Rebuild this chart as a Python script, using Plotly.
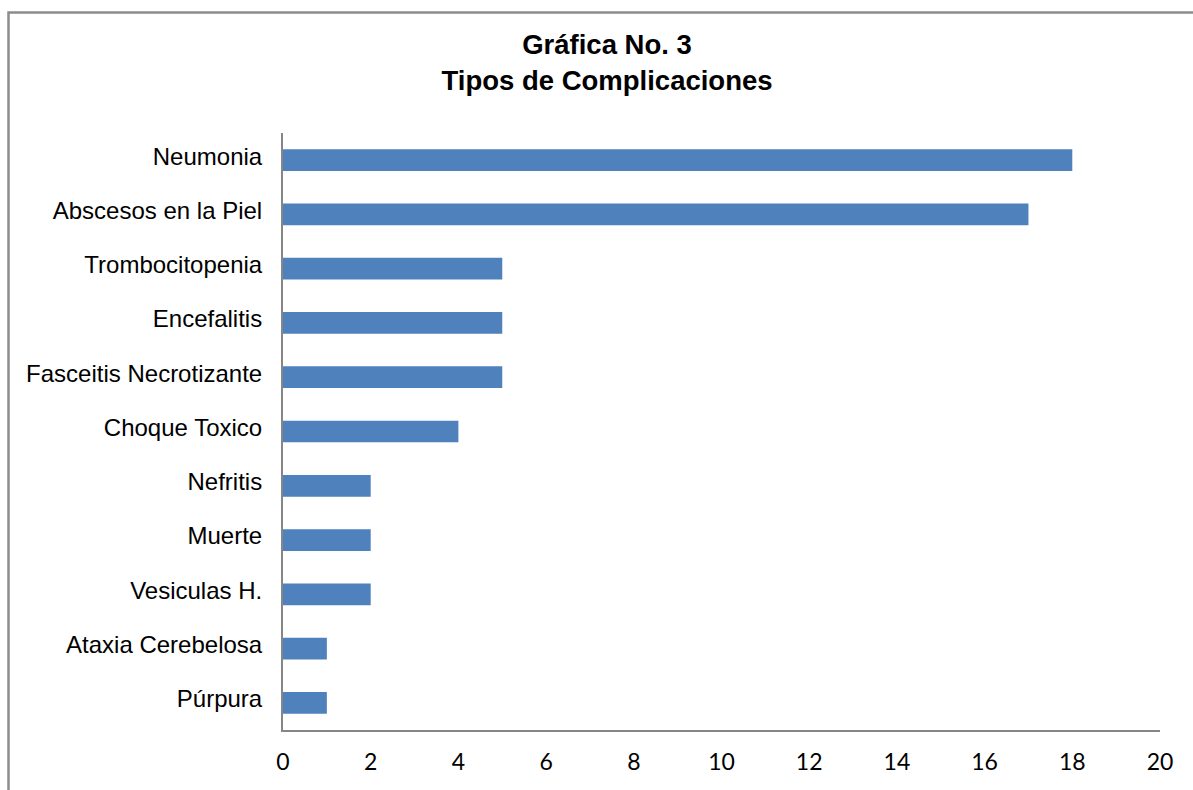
import plotly.graph_objects as go

# Complication types and number of cases
categorias = [
    "Neumonia",
    "Abscesos en la Piel",
    "Trombocitopenia",
    "Encefalitis",
    "Fasceitis Necrotizante",
    "Choque Toxico",
    "Nefritis",
    "Muerte",
    "Vesiculas H.",
    "Ataxia Cerebelosa",
    "Púrpura",
]
casos = [18, 17, 5, 5, 5, 4, 2, 2, 2, 1, 1]
ticks_x = [0, 2, 4, 6, 8, 10, 12, 14, 16, 18, 20]

W, H = 1193, 790
L, R, T, B = 283, 33, 133, 60

fig = go.Figure(
    go.Bar(
        x=casos,
        y=categorias,
        orientation="h",
        marker=dict(color="#4F81BD", line=dict(width=0)),
        hoverinfo="x+y",
    )
)

pw = W - L - R
ph = H - T - B

def px_x(p):
    return (p - L) / pw

def px_y(p):
    return (H - B - p) / ph

# Outer chart frame (left and top edges)
frame = dict(type="path", xref="paper", yref="paper",
             path=f"M {px_x(8.5)},{px_y(790)} L {px_x(8.5)},{px_y(12.5)} L {px_x(1193)},{px_y(12.5)}",
             line=dict(color="#8C8C8C", width=2.5))

fig.update_layout(
    width=W,
    height=H,
    margin=dict(l=L, r=R, t=T, b=B, pad=0),
    paper_bgcolor="white",
    plot_bgcolor="white",
    showlegend=False,
    bargap=0.6,
    title=dict(
        text="<b>Gráfica No. 3<br>Tipos de Complicaciones</b>",
        x=px_x(607), xref="paper", xanchor="center",
        y=1 - 54 / H, yanchor="middle",
        font=dict(family="Liberation Sans", size=27.5, color="black"),
    ),
    shapes=[frame],
    xaxis=dict(
        range=[0, 20],
        tickvals=ticks_x,
        ticktext=[str(t) for t in ticks_x],
        showgrid=False,
        zeroline=False,
        showline=True,
        linecolor="#868686",
        linewidth=2,
        ticks="",
        ticklabelstandoff=10,
        tickfont=dict(family="Lato", size=23, color="black"),
        fixedrange=True,
    ),
    yaxis=dict(
        categoryorder="array",
        categoryarray=categorias[::-1],
        showgrid=False,
        zeroline=False,
        showline=True,
        linecolor="#868686",
        linewidth=2,
        ticks="",
        ticklabelstandoff=14,
        ticklabelshift=-4,
        tickfont=dict(family="Liberation Sans", size=24, color="black"),
        fixedrange=True,
    ),
)

fig.write_html("out.html")
